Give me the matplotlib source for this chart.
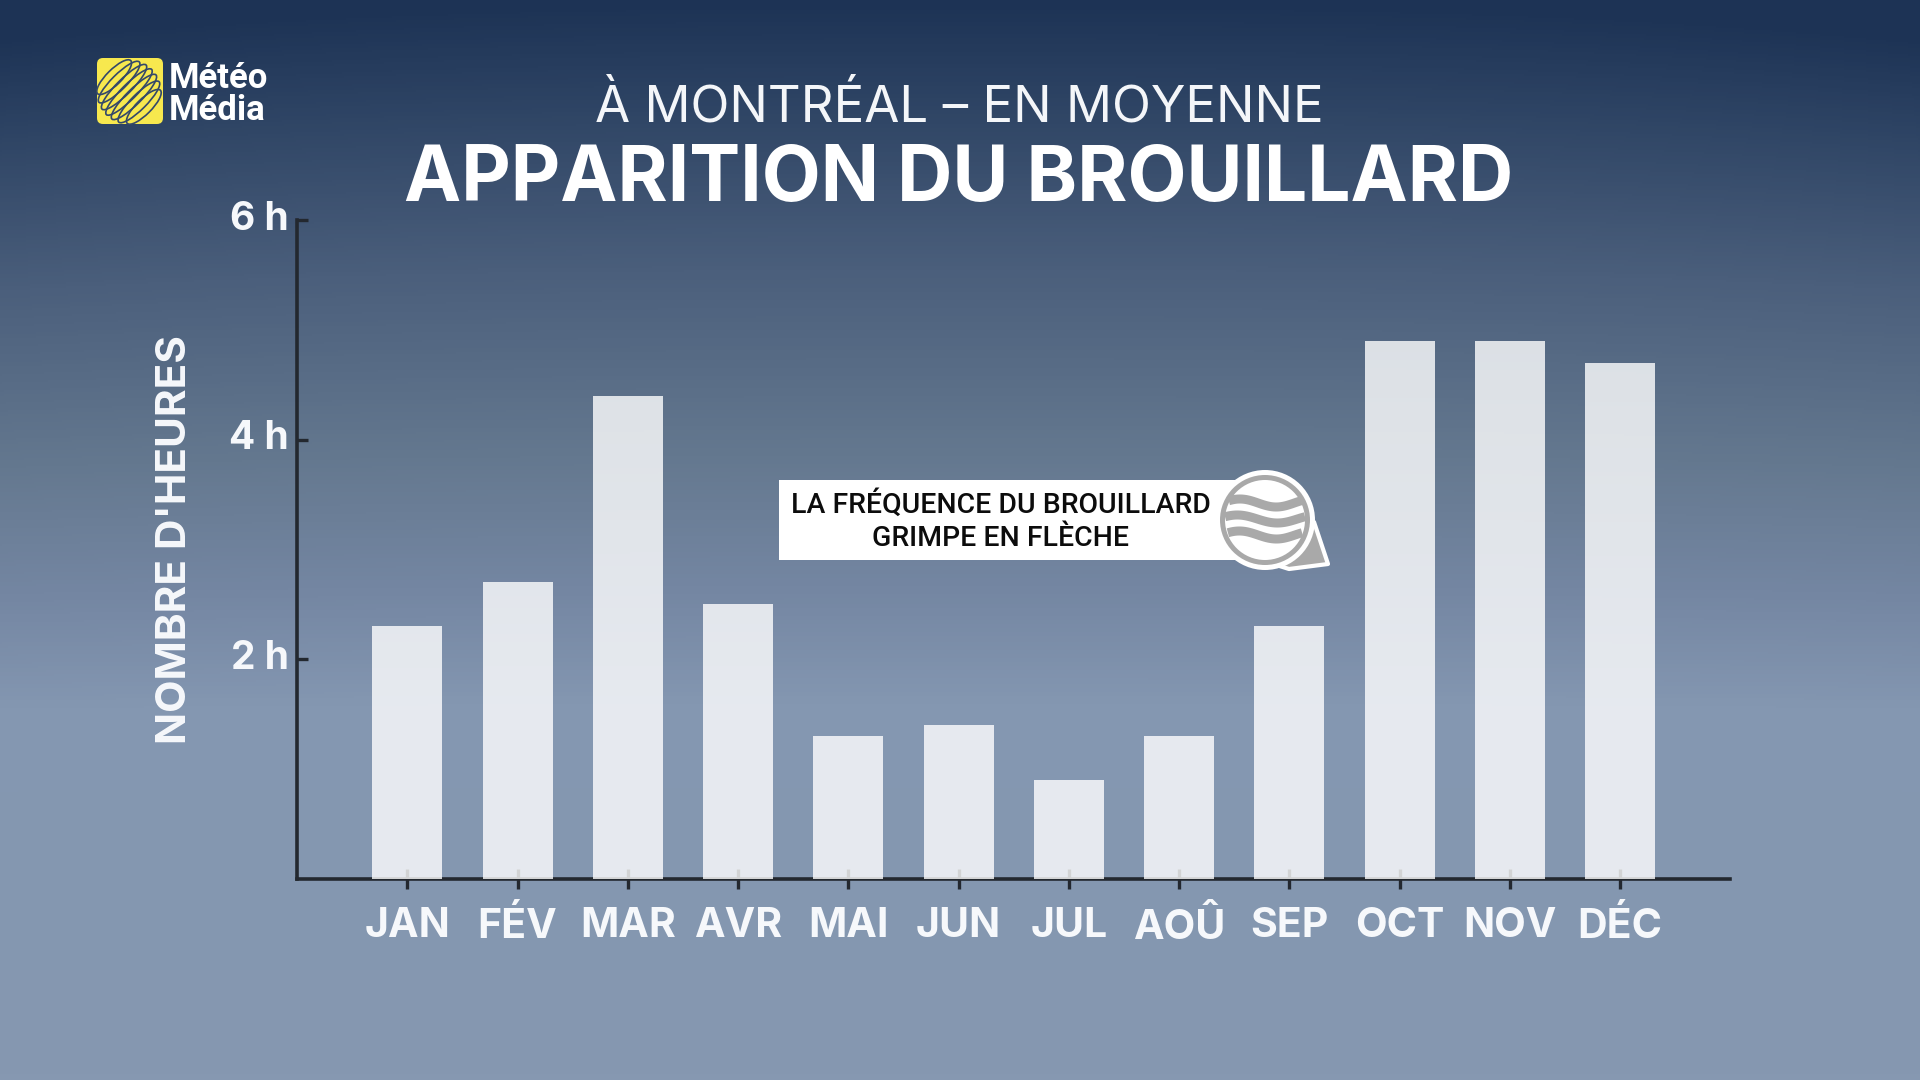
import numpy as np
import matplotlib
matplotlib.use("Agg")
import matplotlib.pyplot as plt
from matplotlib.colors import LinearSegmentedColormap
from matplotlib.patches import Circle, Ellipse, FancyBboxPatch, Polygon, Rectangle
from matplotlib.transforms import ScaledTranslation

months = ["JAN", "FÉV", "MAR", "AVR", "MAI", "JUN", "JUL", "AOÛ", "SEP", "OCT", "NOV", "DÉC"]
hours = [2.3, 2.7, 4.4, 2.5, 1.3, 1.4, 0.9, 1.3, 2.3, 4.9, 4.9, 4.7]
y_ticks = [2, 4, 6]
y_tick_labels = ["2 h", "4 h", "6 h"]
subtitle = "À MONTRÉAL – EN MOYENNE"
title = "APPARITION DU BROUILLARD"
y_label = "NOMBRE D'HEURES"
callout = ["LA FRÉQUENCE DU BROUILLARD", "GRIMPE EN FLÈCHE"]

W, H = 1920, 1080
FONT = "Inter"
DARK = "#23282f"

fig = plt.figure(figsize=(W / 100, H / 100), dpi=100)

# background gradient, slightly darker towards the upper corners
bg = fig.add_axes([0, 0, 1, 1], zorder=0)
bg.axis("off")
stops = [(0.0, "#1d3355"), (0.10, "#2f4565"), (0.25, "#4b5f7c"), (0.42, "#64788f"),
         (0.55, "#7587a3"), (0.66, "#8598b2"), (0.80, "#8497b0"), (1.0, "#8698b1")]
cmap = LinearSegmentedColormap.from_list("bg", stops)
grad = np.linspace(0, 1, 540)[:, None] * np.ones((540, 960))
edge = np.abs(np.linspace(-1, 1, 960))[None, :] ** 3
grad = np.clip(grad - 0.035 * edge * (1 - grad) ** 2, 0, 1)
bg.imshow(grad, aspect="auto", cmap=cmap, extent=[0, 1, 1, 0], vmin=0, vmax=1)

# chart axes in the pixel frame of the reference
px_step = 110.25
x0 = 407.3
left, right, bottom, top = 297, 1730, 879, 220
ax = fig.add_axes([left / W, 1 - bottom / H, (right - left) / W, (bottom - top) / H], zorder=2)
ax.patch.set_alpha(0)
x = np.arange(len(months))

ax.bar(x, hours, width=70 / px_step, color="white", alpha=0.8, zorder=2)
ax.set_xlim((left - x0) / px_step, (right - x0) / px_step)
ax.set_ylim(0, 6)
ax.set_axisbelow(True)

for s in ("top", "right"):
    ax.spines[s].set_visible(False)
for s in ("left", "bottom"):
    ax.spines[s].set_color(DARK)
    ax.spines[s].set_linewidth(2.6)
    ax.spines[s].set_zorder(1)

ax.set_xticks(x)
ax.set_xticklabels(months, fontsize=29.5, fontweight="bold", color="#f6f8fb", family=FONT)
ax.tick_params(axis="x", direction="inout", length=14, width=2.4, color=DARK, pad=13)
ax.set_yticks(y_ticks)
ax.set_yticklabels(y_tick_labels, fontsize=28, fontweight="bold", color="#f6f8fb", family=FONT)
ax.tick_params(axis="y", direction="in", length=8, width=2.4, color=DARK, pad=6)
for lab in ax.get_yticklabels():
    lab.set_transform(lab.get_transform() + ScaledTranslation(0.5 / 100, 5 / 100, fig.dpi_scale_trans))

# overlay in pixel coordinates for title, logo and callout
ov = fig.add_axes([0, 0, 1, 1], zorder=3)
ov.set_xlim(0, W)
ov.set_ylim(H, 0)
ov.axis("off")

ov.text(959, 107.5, subtitle, fontsize=36.7, color="#f4f6f9", ha="center", va="center", family=FONT, fontweight="normal")
ov.text(959, 181, title, fontsize=55.2, color="white", ha="center", va="center", family=FONT, fontweight="bold")
ov.text(175, 540, y_label, fontsize=30.4, color="#f6f8fb", ha="center", va="center", rotation=90,
        family=FONT, fontweight="bold")

# logo
ov.add_patch(FancyBboxPatch((100, 61), 60, 60, boxstyle="round,pad=3,rounding_size=6", fc="#f7e84e", ec="none"))
for s_off in np.linspace(-21, 21, 7):
    length = 2 * np.sqrt(30 ** 2 - s_off ** 2) + 4
    ov.add_patch(Ellipse((130 + s_off * 0.707 - 1, 91 + s_off * 0.707 + 1), length, 15, angle=-45,
                         fc="none", ec="#34486a", lw=1.2))
ov.text(169, 79, "Météo", fontsize=25, color="white", fontweight="bold", family="Roboto", va="center", ha="left")
ov.text(169, 111, "Média", fontsize=25, color="white", fontweight="bold", family="Roboto", va="center", ha="left")

# callout
ov.add_patch(Rectangle((779, 480), 490, 80, fc="white", ec="none"))
ov.text(1000.5, 504, callout[0], fontsize=20.4, color="#0c0c0c", ha="center", va="center", family="Roboto", fontweight="medium")
ov.text(1000.5, 538.5, callout[1], fontsize=20.4, color="#0c0c0c", ha="center", va="center", family="Roboto", fontweight="medium")
grey = "#a9a9a9"
ov.add_patch(Polygon([[1298, 510], [1314, 522], [1328, 564], [1289, 569], [1270, 563]],
                     fc=grey, ec="white", lw=3, joinstyle="round"))
ov.add_patch(Circle((1265, 520), 50, fc="white", ec="none"))
ov.add_patch(Circle((1265, 520), 45, fc=grey, ec="none"))
ov.add_patch(Circle((1265, 520), 40, fc="white", ec="none"))
wave_x = np.linspace(0, 1, 60)
for y_mid in [503, 519, 535]:
    half = 40 * np.sqrt(np.clip(1 - ((y_mid - 520) / 40.0) ** 2, 0, 1))
    xs = 1265 - half + 2 * half * wave_x
    ys = y_mid - 4 * np.sin(wave_x * 2 * np.pi + 0.6)
    ov.plot(xs, ys, color=grey, lw=6.5, solid_capstyle="butt")

fig.savefig("out.png", dpi=100)
